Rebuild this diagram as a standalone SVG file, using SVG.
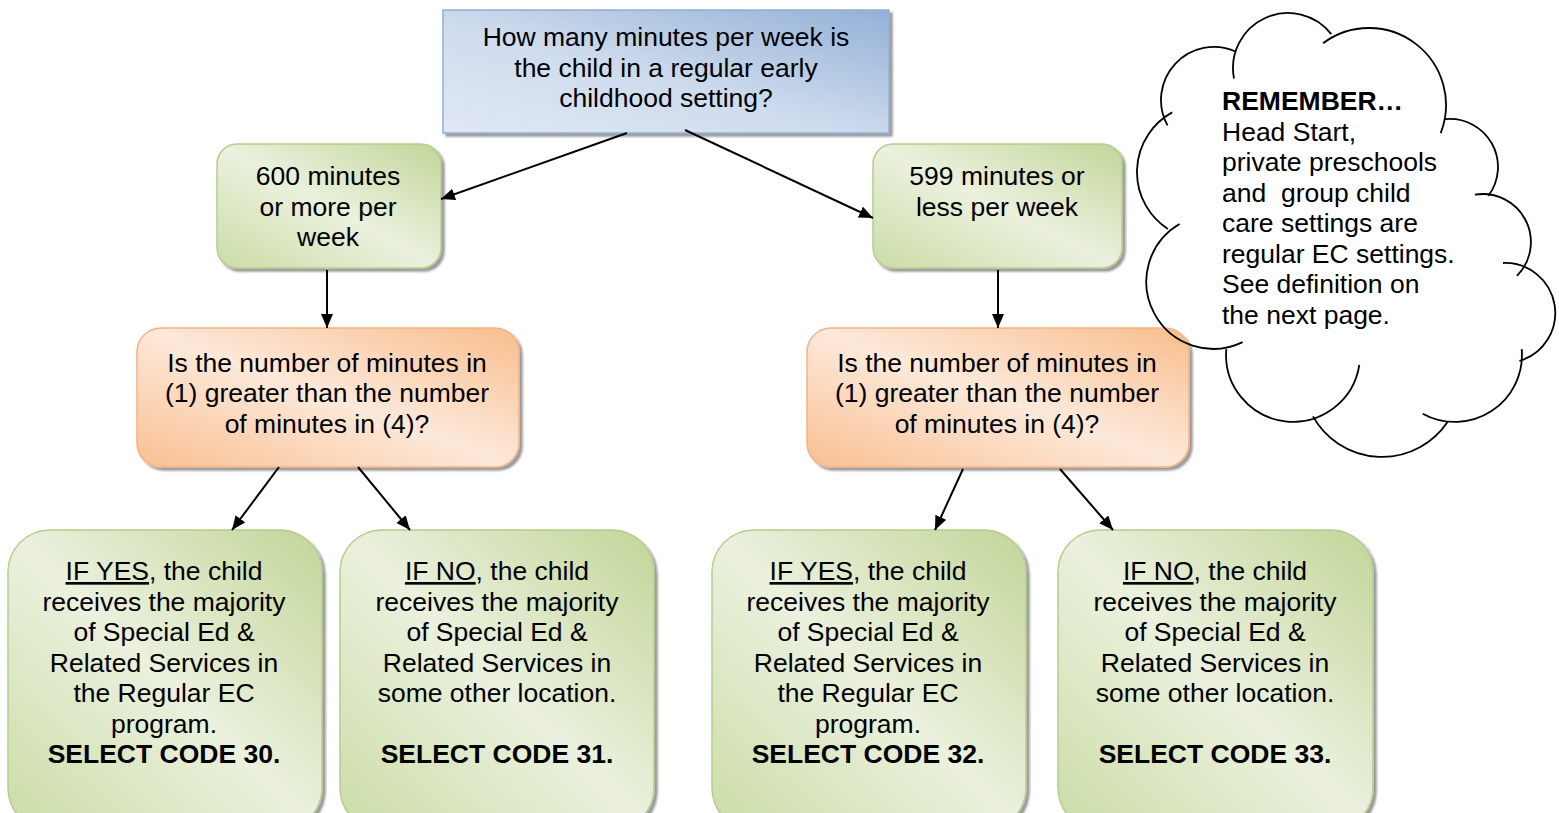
<svg xmlns="http://www.w3.org/2000/svg" width="1559" height="813" viewBox="0 0 1559 813">
<style>
text{font-family:"Liberation Sans",Arial,sans-serif;font-size:26.5px;fill:#000}
.c{text-anchor:middle}
.b{font-weight:bold}
.u{text-decoration:underline}
.blue{fill:url(#gBlue);stroke:#8eaed5;stroke-width:1.5}
.green{fill:url(#gGreen);stroke:#b7cc8c;stroke-width:1.5}
.orange{fill:url(#gOrange);stroke:#f4b385;stroke-width:1.5}
.conn line{stroke:#000;stroke-width:2;marker-end:url(#arr)}
.cloud{fill:none;stroke:#000;stroke-width:1.8}
</style>
<defs>
<linearGradient id="gBlue" x1="1" y1="0" x2="0" y2="1">
<stop offset="0" stop-color="#93b1d6"/><stop offset="0.55" stop-color="#cfdcee"/><stop offset="1" stop-color="#dfe8f3"/>
</linearGradient>
<linearGradient id="gGreen" x1="1" y1="0" x2="0" y2="1">
<stop offset="0" stop-color="#c2d598"/><stop offset="0.5" stop-color="#ebf1de"/><stop offset="1" stop-color="#cbdca6"/>
</linearGradient>
<linearGradient id="gOrange" x1="1" y1="0" x2="0" y2="1">
<stop offset="0" stop-color="#f9bd8c"/><stop offset="0.5" stop-color="#fde9da"/><stop offset="1" stop-color="#f9bf91"/>
</linearGradient>
<filter id="sh" x="-10%" y="-10%" width="130%" height="130%">
<feDropShadow dx="3" dy="3" stdDeviation="1.2" flood-color="#000" flood-opacity="0.4"/>
</filter>
<marker id="arr" markerUnits="userSpaceOnUse" markerWidth="16" markerHeight="14" refX="14" refY="6" orient="auto">
<path d="M0,0 L14,6 L0,12 Z" fill="#000"/>
</marker>
</defs>

<g id="q-minutes">
<rect class="blue" x="443" y="10" width="446" height="123" filter="url(#sh)"/>
<text class="c" x="666" y="46">How many minutes per week is</text>
<text class="c" x="666" y="76.5">the child in a regular early</text>
<text class="c" x="666" y="107">childhood setting?</text>
</g>

<g id="opt-600">
<rect class="green" x="217" y="144" width="224" height="124" rx="20" filter="url(#sh)"/>
<text class="c" x="328" y="185">600 minutes</text>
<text class="c" x="328" y="215.5">or more per</text>
<text class="c" x="328" y="246">week</text>
</g>

<g id="opt-599">
<rect class="green" x="873" y="144" width="249" height="124" rx="20" filter="url(#sh)"/>
<text class="c" x="997" y="185">599 minutes or</text>
<text class="c" x="997" y="215.5">less per week</text>
</g>

<g id="q-left">
<rect class="orange" x="137" y="328" width="382" height="139" rx="24" filter="url(#sh)"/>
<text class="c" x="327" y="371.5">Is the number of minutes in</text>
<text class="c" x="327" y="402">(1) greater than the number</text>
<text class="c" x="327" y="432.5">of minutes in (4)?</text>
</g>

<g id="q-right">
<rect class="orange" x="807" y="328" width="382" height="139" rx="24" filter="url(#sh)"/>
<text class="c" x="997" y="371.5">Is the number of minutes in</text>
<text class="c" x="997" y="402">(1) greater than the number</text>
<text class="c" x="997" y="432.5">of minutes in (4)?</text>
</g>

<g id="code-30">
<rect class="green" x="8" y="530" width="314" height="300" rx="42" filter="url(#sh)"/>
<text class="c" x="164" y="580"><tspan class="u">IF YES</tspan>, the child</text>
<text class="c" x="164" y="610.5">receives the majority</text>
<text class="c" x="164" y="641">of Special Ed &amp;</text>
<text class="c" x="164" y="671.5">Related Services in</text>
<text class="c" x="164" y="702">the Regular EC</text>
<text class="c" x="164" y="732.5">program.</text>
<text class="c b" x="164" y="763">SELECT CODE 30.</text>
</g>

<g id="code-31">
<rect class="green" x="340" y="530" width="314" height="300" rx="42" filter="url(#sh)"/>
<text class="c" x="497" y="580"><tspan class="u">IF NO</tspan>, the child</text>
<text class="c" x="497" y="610.5">receives the majority</text>
<text class="c" x="497" y="641">of Special Ed &amp;</text>
<text class="c" x="497" y="671.5">Related Services in</text>
<text class="c" x="497" y="702">some other location.</text>
<text class="c b" x="497" y="763">SELECT CODE 31.</text>
</g>

<g id="code-32">
<rect class="green" x="712" y="530" width="314" height="300" rx="42" filter="url(#sh)"/>
<text class="c" x="868" y="580"><tspan class="u">IF YES</tspan>, the child</text>
<text class="c" x="868" y="610.5">receives the majority</text>
<text class="c" x="868" y="641">of Special Ed &amp;</text>
<text class="c" x="868" y="671.5">Related Services in</text>
<text class="c" x="868" y="702">the Regular EC</text>
<text class="c" x="868" y="732.5">program.</text>
<text class="c b" x="868" y="763">SELECT CODE 32.</text>
</g>

<g id="code-33">
<rect class="green" x="1058" y="530" width="315" height="300" rx="42" filter="url(#sh)"/>
<text class="c" x="1215" y="580"><tspan class="u">IF NO</tspan>, the child</text>
<text class="c" x="1215" y="610.5">receives the majority</text>
<text class="c" x="1215" y="641">of Special Ed &amp;</text>
<text class="c" x="1215" y="671.5">Related Services in</text>
<text class="c" x="1215" y="702">some other location.</text>
<text class="c b" x="1215" y="763">SELECT CODE 33.</text>
</g>

<g id="connectors" class="conn">
<line x1="627" y1="133" x2="441" y2="199"/>
<line x1="685" y1="130" x2="873" y2="218"/>
<line x1="327" y1="270" x2="327" y2="328"/>
<line x1="998" y1="270" x2="998" y2="328"/>
<line x1="279" y1="467" x2="232" y2="530"/>
<line x1="358" y1="467" x2="410" y2="530"/>
<line x1="963" y1="469" x2="935" y2="530"/>
<line x1="1060" y1="469" x2="1113" y2="530"/>
</g>

<g id="remember-cloud">
<path class="cloud" d="M1167.5,125.4 A53,53 0 0 1 1236.1,51.8
M1234,78.5 A55,55 0 0 1 1331.3,34.1
M1323.1,43.2 A77,77 0 0 1 1440.7,133.1
M1445.4,119.2 A48,48 0 0 1 1488.3,195.9
M1474.9,194.7 A48,48 0 0 1 1516.9,275.9
M1503,263 A50,50 0 0 1 1519.4,360.9
M1521.7,349.2 A67,67 0 0 1 1422.7,413.7
M1447.7,421.8 A79,79 0 0 1 1313,416.4
M1359.3,364.9 A67,67 0 0 1 1226.3,349.2
M1242.6,342.1 A67,67 0 0 1 1179.5,224
M1167.8,228.9 A68,68 0 0 1 1172.2,112.4"/>
<text class="b" x="1222" y="110">REMEMBER…</text>
<text x="1222" y="140.5">Head Start,</text>
<text x="1222" y="171">private preschools</text>
<text x="1222" y="201.5" xml:space="preserve">and  group child</text>
<text x="1222" y="232">care settings are</text>
<text x="1222" y="262.5">regular EC settings.</text>
<text x="1222" y="293">See definition on</text>
<text x="1222" y="323.5">the next page.</text>
</g>
</svg>
